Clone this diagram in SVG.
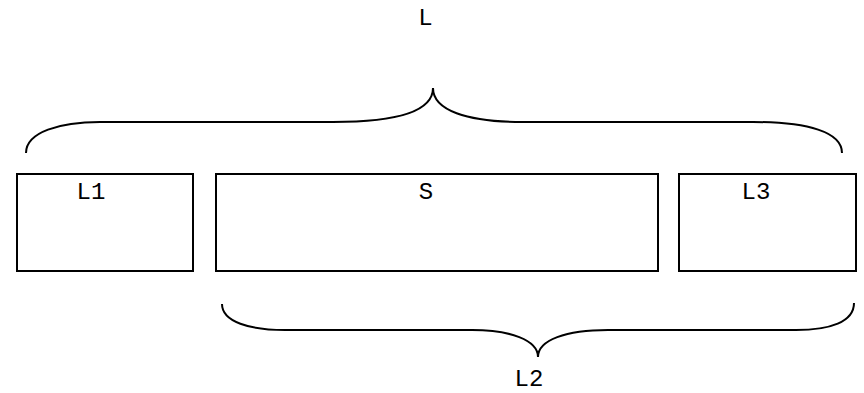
<svg xmlns="http://www.w3.org/2000/svg" width="864" height="393" viewBox="0 0 864 393">
<style>
.box{fill:#fff;stroke:#000;stroke-width:2}
.brace{fill:none;stroke:#000;stroke-width:2}
.t{font-family:'Liberation Mono','Courier New','DejaVu Sans Mono',monospace;font-size:24px;fill:#000;text-anchor:middle}
</style>
<rect width="864" height="393" fill="#fff"/>
<g id="connectors">
<path class="brace" d="M26,153 C26,132 60,122 100,122 L333,122 C400,122 433,110 433,88 C433,110 466,122 523,122 L753,122 C808,122 842,132 842,153"/>
<path class="brace" d="M222,304 C222,322 250,330 285,330 L472,330 C510,330 538,340 538,357 C538,340 566,330 608,330 L796,330 C830,330 854,322 854,303"/>
</g>
<g id="L"><text class="t" x="425.5" y="25">L</text></g>
<g id="L1"><rect class="box" x="17" y="174" width="176" height="97"/><text class="t" x="91" y="199">L1</text></g>
<g id="S"><rect class="box" x="216" y="174" width="442" height="97"/><text class="t" x="426" y="199">S</text></g>
<g id="L3"><rect class="box" x="679" y="174" width="177" height="97"/><text class="t" x="756" y="199">L3</text></g>
<g id="L2"><text class="t" x="529" y="386">L2</text></g>
</svg>
